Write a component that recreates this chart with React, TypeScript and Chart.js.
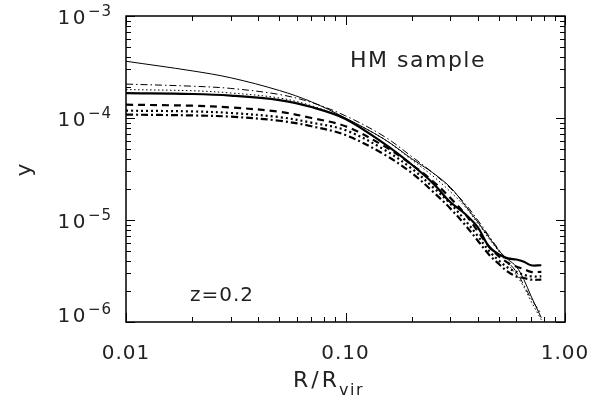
import React, { useEffect, useRef } from "react";
import { Chart, registerables } from "chart.js";

Chart.register(...registerables);

// Radius R/Rvir sampling
const radius = [0.01, 0.02, 0.03, 0.05, 0.07, 0.1, 0.15, 0.2, 0.25, 0.3, 0.35, 0.4, 0.45, 0.5, 0.55, 0.6, 0.65, 0.7, 0.78];

const thinSolid = [3.6e-4, 2.9e-4, 2.48e-4, 1.86e-4, 1.44e-4, 1.0e-4, 6.2e-5, 4.0e-5, 2.9e-5, 2.1e-5, 1.4e-5, 9.6e-6, 6.8e-6, 5.0e-6, 4.1e-6, 3.5e-6, 2.6e-6, 1.8e-6, 1.1e-6];
const thinDashDot = [2.15e-4, 2.05e-4, 1.95e-4, 1.7e-4, 1.42e-4, 1.05e-4, 6.6e-5, 4.2e-5, 2.9e-5, 2.05e-5, 1.45e-5, 1.0e-5, 7.0e-6, 5.1e-6, 3.9e-6, 3.1e-6, 2.3e-6, 1.7e-6, 1.2e-6];
const thinDotted = [1.9e-4, 1.85e-4, 1.76e-4, 1.57e-4, 1.32e-4, 9.8e-5, 6.2e-5, 3.9e-5, 2.7e-5, 1.9e-5, 1.35e-5, 9.3e-6, 6.6e-6, 4.9e-6, 3.7e-6, 2.9e-6, 2.2e-6, 1.6e-6, 1.05e-6];
const thickSolid = [1.75e-4, 1.72e-4, 1.66e-4, 1.5e-4, 1.28e-4, 9.8e-5, 5.6e-5, 3.5e-5, 2.3e-5, 1.5e-5, 1.15e-5, 8.5e-6, 5.5e-6, 4.6e-6, 4.2e-6, 4.1e-6, 3.9e-6, 3.6e-6, 3.6e-6];
const thickDashed = [1.35e-4, 1.32e-4, 1.27e-4, 1.15e-4, 1.0e-4, 8.3e-5, 5.3e-5, 3.5e-5, 2.4e-5, 1.65e-5, 1.15e-5, 7.8e-6, 5.5e-6, 4.4e-6, 3.8e-6, 3.5e-6, 3.3e-6, 3.1e-6, 3.1e-6];
const thickDotted = [1.18e-4, 1.16e-4, 1.12e-4, 1.02e-4, 9.0e-5, 7.6e-5, 4.9e-5, 3.2e-5, 2.1e-5, 1.45e-5, 1.0e-5, 7.0e-6, 5.0e-6, 4.0e-6, 3.4e-6, 3.1e-6, 2.9e-6, 2.8e-6, 2.8e-6];
const thickDashDot = [1.08e-4, 1.06e-4, 1.03e-4, 9.4e-5, 8.3e-5, 6.8e-5, 4.4e-5, 2.9e-5, 1.9e-5, 1.3e-5, 9.0e-6, 6.3e-6, 4.6e-6, 3.7e-6, 3.1e-6, 2.8e-6, 2.7e-6, 2.6e-6, 2.6e-6];

const xTickValues = [0.01, 0.02, 0.03, 0.04, 0.05, 0.06, 0.07, 0.08, 0.09, 0.1, 0.2, 0.3, 0.4, 0.5, 0.6, 0.7, 0.8, 0.9, 1];
const xTickLabels = ["0.01", "0.10", "1.00"];
const yTickValues: number[] = [];
for (let e = -6; e < -3; e++) for (let m = 1; m < 10; m++) yTickValues.push(m * Math.pow(10, e));
yTickValues.push(1e-3);
const yTickExponents = ["-6", "-5", "-4", "-3"];

const FONT = "'DejaVu Sans', sans-serif";

const isMajor = (v: number) => Math.abs(Math.log10(v) - Math.round(Math.log10(v))) < 1e-6;

const framePlugin = {
  id: "idlFrame",
  afterDraw(chart: any) {
    const { ctx, chartArea } = chart;
    const { left, right, top, bottom } = chartArea;
    const xs = chart.scales.x;
    const ys = chart.scales.y;
    const c = ctx as any;
    ctx.save();
    ctx.strokeStyle = "#000";
    ctx.lineWidth = 1.5;
    ctx.strokeRect(left, top, right - left, bottom - top);
    ctx.lineWidth = 1;
    ctx.beginPath();
    xs.ticks.forEach((t: any) => {
      const px = Math.round(xs.getPixelForValue(t.value)) + 0.5;
      const len = isMajor(t.value) ? 9 : 5;
      ctx.moveTo(px, bottom);
      ctx.lineTo(px, bottom - len);
      ctx.moveTo(px, top);
      ctx.lineTo(px, top + len);
    });
    ys.ticks.forEach((t: any) => {
      const py = Math.round(ys.getPixelForValue(t.value)) + 0.5;
      const len = isMajor(t.value) ? 9 : 5;
      ctx.moveTo(left, py);
      ctx.lineTo(left + len, py);
      ctx.moveTo(right, py);
      ctx.lineTo(right - len, py);
    });
    ctx.stroke();

    ctx.fillStyle = "#222";
    // x labels
    ctx.font = `20px ${FONT}`;
    c.letterSpacing = "1px";
    ctx.textAlign = "center";
    ctx.textBaseline = "alphabetic";
    let k = 0;
    xs.ticks.forEach((t: any) => {
      if (!isMajor(t.value)) return;
      const px = xs.getPixelForValue(t.value);
      ctx.fillText(xTickLabels[k++], px, bottom + 37);
    });
    // y labels
    k = 0;
    ys.ticks.forEach((t: any) => {
      if (!isMajor(t.value)) return;
      const py = ys.getPixelForValue(t.value);
      const sup = yTickExponents[k++].replace("-", "\u2212");
      ctx.font = `20px ${FONT}`;
      c.letterSpacing = "2.5px";
      const w1 = ctx.measureText("10").width;
      ctx.font = `15px ${FONT}`;
      c.letterSpacing = "1px";
      const w2 = ctx.measureText(sup).width;
      const x0 = left - 14 - w1 - w2;
      let base = py + 8;
      if (base > bottom) base = bottom;
      ctx.textAlign = "left";
      ctx.font = `20px ${FONT}`;
      c.letterSpacing = "2.5px";
      ctx.fillText("10", x0, base);
      ctx.font = `15px ${FONT}`;
      c.letterSpacing = "1px";
      ctx.fillText(sup, x0 + w1, base - 8);
    });
    // x title R/R_vir
    ctx.textAlign = "left";
    ctx.font = `22px ${FONT}`;
    c.letterSpacing = "3px";
    const main = "R/R";
    const wm = ctx.measureText(main).width;
    const tx = 293;
    ctx.fillText(main, tx, bottom + 65);
    c.letterSpacing = "1.5px";
    ctx.font = `16px ${FONT}`;
    ctx.fillText("vir", tx + wm - 1, bottom + 73);
    c.letterSpacing = "0px";
    // y title
    ctx.save();
    ctx.translate(31, 170);
    ctx.rotate(-Math.PI / 2);
    ctx.textAlign = "center";
    ctx.font = `22px ${FONT}`;
    ctx.fillText("y", 0, 0);
    ctx.restore();
    // annotations
    ctx.font = `22px ${FONT}`;
    c.letterSpacing = "1.5px";
    ctx.textAlign = "center";
    ctx.fillText("HM sample", 418, 67);
    ctx.font = `20px ${FONT}`;
    c.letterSpacing = "1px";
    ctx.fillText("z=0.2", 222, 301);
    c.letterSpacing = "0px";
    ctx.restore();
  },
};

const mk = (label: string, vals: number[], width: number, dash: number[]) => ({
  label,
  data: radius.map((r, i) => ({ x: r, y: vals[i] })),
  borderColor: "#000",
  backgroundColor: "#000",
  borderWidth: width,
  borderDash: dash,
  pointRadius: 0,
  fill: false,
  tension: 0.35,
});

export default function App() {
  const ref = useRef<HTMLCanvasElement>(null);
  useEffect(() => {
    if (!ref.current) return;
    const chart = new Chart(ref.current, {
      type: "line",
      data: {
        datasets: [
          mk("thin solid", thinSolid, 1, []),
          mk("thin dash-dot", thinDashDot, 1, [7, 3, 1.5, 3]),
          mk("thin dotted", thinDotted, 1, [1.5, 2.5]),
          mk("thick solid", thickSolid, 2.2, []),
          mk("thick dashed", thickDashed, 2.2, [7, 5]),
          mk("thick dotted", thickDotted, 2.2, [2, 3]),
          mk("thick dash-dot", thickDashDot, 2.2, [7, 3, 2, 3]),
        ],
      },
      options: {
        animation: false,
        responsive: false,
        maintainAspectRatio: false,
        layout: { padding: { left: 118, top: 16, right: 51, bottom: 78 } },
        plugins: { legend: { display: false }, tooltip: { enabled: false } },
        scales: {
          x: {
            type: "logarithmic",
            min: 0.01,
            max: 1,
            afterBuildTicks: (s: any) => {
              s.ticks = xTickValues.map((v) => ({ value: v }));
            },
            ticks: { display: false },
            grid: { display: false },
            border: { display: false },
          },
          y: {
            type: "logarithmic",
            min: 1e-6,
            max: 1e-3,
            afterBuildTicks: (s: any) => {
              s.ticks = yTickValues.map((v) => ({ value: v }));
            },
            ticks: { display: false },
            grid: { display: false },
            border: { display: false },
          },
        },
      },
      plugins: [framePlugin],
    });
    return () => chart.destroy();
  }, []);
  return (
    <div style={{ position: "absolute", left: 0, top: 0, width: 616, height: 408, background: "#fff" }}>
      <canvas ref={ref} width={616} height={408} />
    </div>
  );
}
